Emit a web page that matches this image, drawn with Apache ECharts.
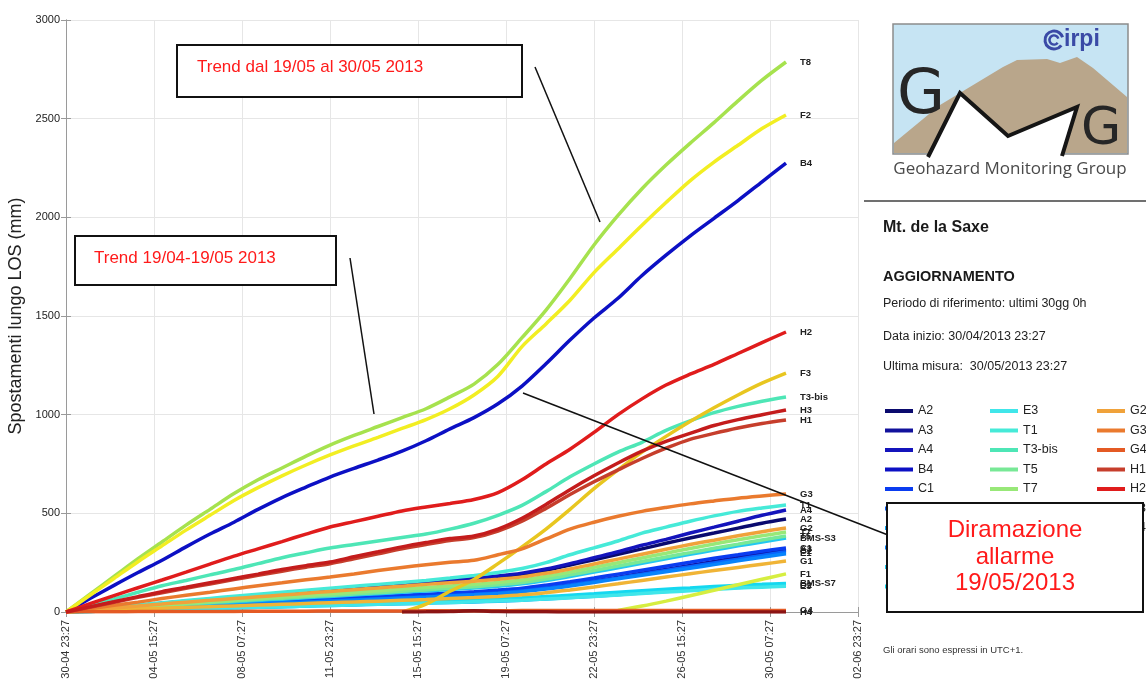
<!DOCTYPE html>
<html>
<head>
<meta charset="utf-8">
<script src="https://cdn.jsdelivr.net/npm/echarts@6/dist/echarts.min.js"></script>
<style>
  html, body { margin: 0; padding: 0; background: #ffffff; }
  #chart { width: 1146px; height: 683px; }
</style>
</head>
<body>
<div id="chart"></div>
<script>
// Hours elapsed since 30/04/2013 23:27 (one sample per day)
const hours = [0,24,48,72,96,120,144,168,192,216,240,264,288,312,336,360,384,408,432,456,480,504,528,552,576,600,624,648,672,696,720];

// Bottom axis tick labels, every 88 h (3 d 16 h)
const xTickLabels = ['30-04 23:27','04-05 15:27','08-05 07:27','11-05 23:27','15-05 15:27','19-05 07:27','22-05 23:27','26-05 15:27','30-05 07:27','02-06 23:27'];
const yTicks = [0, 500, 1000, 1500, 2000, 2500, 3000];

// Cumulative displacement along LOS (mm) for each target
const vA2 = [0,11,22,33,43,53,63,73,83,93,102,111,120,129,138,147,156,166,178,192,212,238,265,292,320,348,375,400,425,450,471];
const vA3 = [0,6,12,18,23,28,33,38,43,48,53,58,63,68,73,78,84,90,97,107,121,138,157,176,196,216,236,256,276,296,315];
const vA4 = [0,11,22,33,44,55,65,75,85,95,105,114,123,132,141,150,160,170,182,197,218,245,275,305,338,368,400,430,460,490,517];
const vB4 = [0,68,135,200,262,330,395,455,520,580,633,684,728,770,815,868,928,985,1055,1145,1258,1378,1490,1590,1705,1808,1905,1995,2085,2180,2275];
const vC1 = [0,6,12,18,24,30,36,42,48,54,60,66,72,78,84,90,96,103,111,121,136,153,172,192,212,232,252,272,290,308,324];
const vC2 = [0,6,12,17,22,27,32,37,42,47,52,57,62,67,72,77,83,89,96,106,120,137,155,173,192,211,230,249,267,287,305];
const vD2 = [0,3,6,9,12,15,18,21,24,27,30,33,36,39,42,45,48,51,55,60,66,73,80,88,96,104,111,118,124,130,135];
const vE1 = [0,5,10,15,20,25,30,35,40,45,50,55,60,65,70,75,81,87,94,103,116,132,150,168,186,204,222,240,259,277,295];
const vBMS_S3 = [0,8,16,23,30,37,44,51,58,65,72,79,86,93,100,107,114,122,131,143,160,180,202,224,247,270,292,314,335,355,375];
const vBMS_S7 = [0,3,6,9,12,15,18,21,24,28,32,36,40,44,48,52,57,62,67,72,78,85,92,100,108,115,122,129,135,140,145];
const vE3 = [0,3,6,9,12,15,18,21,24,27,30,33,36,39,42,45,48,52,56,60,66,72,79,86,94,101,108,115,121,126,130];
const vT1 = [0,12,24,36,47,58,69,80,90,100,110,120,130,140,150,160,172,185,200,220,250,290,325,360,400,430,460,487,510,527,542];
const vT3bis = [0,33,66,100,133,160,188,215,245,275,300,324,342,360,378,395,420,450,490,540,610,685,750,810,860,920,968,1010,1042,1068,1090];
const vT5 = [0,8,16,24,32,40,48,56,63,70,77,84,91,98,105,112,120,128,138,150,167,188,210,233,256,279,301,323,344,365,385];
const vT7 = [0,9,18,27,36,44,52,60,68,76,84,92,100,108,116,124,132,140,150,162,180,202,226,250,274,298,322,345,366,386,405];
const vT8 = [0,90,180,270,355,440,520,600,670,730,790,846,895,940,985,1030,1090,1155,1255,1390,1530,1690,1860,2010,2145,2265,2375,2480,2590,2695,2787];
const vF1 = [null,null,null,null,null,null,null,null,null,null,null,null,null,null,null,null,null,null,null,null,null,null,null,8,30,55,82,110,138,166,193];
const vF2 = [0,85,170,255,335,415,490,565,630,690,745,796,842,885,930,975,1030,1100,1195,1345,1460,1580,1720,1840,1960,2075,2185,2280,2365,2450,2519];
const vF3 = [null,null,null,null,null,null,null,null,null,null,null,null,null,null,0,40,105,165,245,330,420,520,625,720,810,890,965,1035,1100,1160,1211];
const vG1 = [0,5,10,15,19,23,27,31,35,39,43,47,51,55,59,63,68,73,79,87,98,112,127,143,160,177,194,210,226,242,258];
const vG2 = [0,10,20,30,40,50,59,68,77,86,95,104,113,122,131,140,148,156,166,178,196,218,243,268,293,318,342,364,386,407,426];
const vG3 = [0,17,34,50,68,85,100,117,133,148,163,177,193,210,226,240,252,262,290,320,370,420,455,485,510,530,548,563,577,588,598];
const vG4 = [0,1,1,2,2,3,3,3,4,4,4,5,5,5,5,6,6,6,6,7,7,7,7,7,8,8,8,8,8,8,8];
const vH1 = [0,24,49,74,98,120,142,164,186,207,227,245,270,295,320,342,362,377,410,460,525,595,660,720,778,830,875,905,932,955,973];
const vH2 = [0,42,83,123,162,202,243,283,320,357,395,431,458,485,512,532,550,570,605,670,750,825,910,1000,1080,1150,1205,1255,1310,1365,1419];
const vH3 = [0,26,52,78,103,125,148,170,192,215,235,253,280,305,330,352,372,385,420,475,545,620,690,755,815,865,905,945,975,1000,1024];
const vH4 = [null,null,null,null,null,null,null,null,null,null,null,null,null,null,0,1,3,6,2,1,1,0,0,0,0,0,0,0,0,0,0];

// Target names, in legend order, with their series
const targets = [
  ['A2', vA2], ['A3', vA3], ['A4', vA4], ['B4', vB4], ['C1', vC1],
  ['C2', vC2], ['D2', vD2], ['E1', vE1], ['BMS-S3', vBMS_S3], ['BMS-S7', vBMS_S7],
  ['E3', vE3], ['T1', vT1], ['T3-bis', vT3bis], ['T5', vT5], ['T7', vT7],
  ['T8', vT8], ['F1', vF1], ['F2', vF2], ['F3', vF3], ['G1', vG1],
  ['G2', vG2], ['G3', vG3], ['G4', vG4], ['H1', vH1], ['H2', vH2], ['H3', vH3], ['H4', vH4]
];

// Line colours per target (jet-like ramp)
const palette = {
  'A2': '#0a0a6e', 'A3': '#12129c', 'A4': '#1414bc', 'B4': '#0c10c4', 'C1': '#0a3cf0',
  'C2': '#0862fc', 'D2': '#08a4f8', 'E1': '#0884fc', 'BMS-S3': '#22c8f0', 'BMS-S7': '#14d8f0',
  'E3': '#40e6ea', 'T1': '#46ead8', 'T3-bis': '#4ee6b6', 'T5': '#78e896', 'T7': '#98e878',
  'T8': '#a6e24e', 'F1': '#d6ee40', 'F2': '#f2ee22', 'F3': '#e8c620', 'G1': '#f0b436',
  'G2': '#f0a23a', 'G3': '#ea7a2e', 'G4': '#e45a24', 'H1': '#c63e2c', 'H2': '#e01c1c',
  'H3': '#c41c1c', 'H4': '#8c1414'
};

const FONT = '"Liberation Sans", Arial, sans-serif';

const series = targets.map(([name, vals]) => ({
  name: name,
  type: 'line',
  showSymbol: false,
  smooth: 0.3,
  connectNulls: false,
  animation: false,
  color: palette[name],
  lineStyle: { width: 3.5, color: palette[name] },
  emphasis: { disabled: true },
  data: hours.map((h, i) => [h, vals[i]]),
  endLabel: {
    show: true,
    formatter: '{a}',
    distance: 14,
    fontSize: 9.5,
    fontWeight: 'bold',
    color: '#222',
    fontFamily: FONT
  }
}));

const legendCol1 = targets.slice(0, 10).map(t => t[0]);
const legendCol2 = targets.slice(10, 20).map(t => t[0]);
const legendCol3 = targets.slice(20).map(t => t[0]);

function legendColumn(names, left) {
  return {
    data: names,
    orient: 'vertical',
    left: left,
    top: 404,
    padding: 0,
    itemWidth: 28,
    itemHeight: 4,
    itemGap: 5.5,
    icon: 'rect',
    selectedMode: false,
    textStyle: { fontSize: 12.5, color: '#222', fontFamily: FONT, lineHeight: 14 }
  };
}

const axisGray = '#9a9a9a';
const gridLine = { show: true, lineStyle: { color: '#e6e6e6', width: 1 } };

const option = {
  animation: false,
  textStyle: { fontFamily: FONT },
  grid: { left: 66, top: 20, right: 288, bottom: 71, containLabel: false, outerBoundsMode: 'none' },
  legend: [legendColumn(legendCol1, 885), legendColumn(legendCol2, 990), legendColumn(legendCol3, 1097)],
  xAxis: [
    {
      type: 'value', min: 0, max: 792, interval: 88,
      axisLine: { show: true, onZero: false, lineStyle: { color: axisGray } },
      axisTick: { show: true, inside: true, length: 5, lineStyle: { color: axisGray } },
      splitLine: gridLine,
      axisLabel: {
        rotate: 90, fontSize: 11, color: '#333', margin: 8,
        formatter: v => xTickLabels[Math.round(v / 88)] || ''
      }
    },
    {
      type: 'value', min: 0, max: 792, interval: 88, position: 'top',
      axisLine: { show: true, lineStyle: { color: axisGray } },
      axisTick: { show: true, inside: true, length: 5, lineStyle: { color: axisGray } },
      axisLabel: { show: false }, splitLine: { show: false }
    }
  ],
  yAxis: [
    {
      type: 'value', min: 0, max: 3000, interval: 500,
      name: 'Spostamenti lungo LOS (mm)', nameLocation: 'middle', nameGap: 39,
      nameTextStyle: { fontSize: 18, color: '#222', fontFamily: FONT },
      axisLine: { show: true, lineStyle: { color: axisGray } },
      axisTick: { show: true, inside: true, length: 5, lineStyle: { color: axisGray } },
      splitLine: gridLine,
      axisLabel: { fontSize: 11, color: '#222', margin: 6, formatter: v => (yTicks.indexOf(v) >= 0 ? String(v) : '') }
    },
    {
      type: 'value', min: 0, max: 3000, interval: 500, position: 'right',
      axisLine: { show: true, lineStyle: { color: axisGray } },
      axisTick: { show: true, inside: true, length: 5, lineStyle: { color: axisGray } },
      axisLabel: { show: false }, splitLine: { show: false }
    }
  ],
  series: series,
  graphic: [
    // Group logo
    { type: 'rect', z: 50, shape: { x: 893, y: 24, width: 235, height: 130 }, style: { fill: '#c6e4f3', stroke: '#8c8c8c', lineWidth: 1.5 } },
    { type: 'polygon', z: 51, shape: { points: [[894,153],[894,143],[940,105],[1003,67],[1017,60],[1047,59],[1060,63],[1077,57],[1093,68],[1127,97],[1127,153]] }, style: { fill: '#b9a68b' } },
    { type: 'polygon', z: 52, shape: { points: [[928,158],[960,93],[1008,136],[1077,107],[1062,158]] }, style: { fill: '#ffffff' } },
    { type: 'polyline', z: 53, shape: { points: [[928,157],[960,93],[1008,136],[1077,107],[1062,156]] }, style: { stroke: '#151515', lineWidth: 4, fill: null } },
    { type: 'text', z: 53, x: 897, y: 97, style: { text: 'G', font: '62px "DejaVu Sans", sans-serif', fill: '#262626', textVerticalAlign: 'middle' } },
    { type: 'text', z: 53, x: 1081, y: 130, style: { text: 'G', font: '52px "DejaVu Sans", sans-serif', fill: '#262626', textVerticalAlign: 'middle' } },
    { type: 'arc', z: 53, shape: { cx: 1054, cy: 40, r: 9, startAngle: 0.2 * Math.PI, endAngle: 1.9 * Math.PI }, style: { stroke: '#3a4aa6', lineWidth: 3, fill: null } },
    { type: 'arc', z: 53, shape: { cx: 1054, cy: 40, r: 4.5, startAngle: 0.2 * Math.PI, endAngle: 1.9 * Math.PI }, style: { stroke: '#3a4aa6', lineWidth: 2.5, fill: null } },
    { type: 'text', z: 53, x: 1064, y: 51, style: { text: 'irpi', font: 'bold 23px "Liberation Sans", Arial, sans-serif', fill: '#3a4aa6', textVerticalAlign: 'bottom' } },
    { type: 'text', z: 53, x: 1010, y: 169, style: { text: 'Geohazard Monitoring Group', font: '17px "Open Sans", sans-serif', fill: '#4a4a4a', textAlign: 'center', textVerticalAlign: 'middle' } },

    // Site information panel
    { type: 'line', z: 50, shape: { x1: 864, y1: 201, x2: 1146, y2: 201 }, style: { stroke: '#707070', lineWidth: 2 } },
    { type: 'text', z: 50, x: 883, y: 236, style: { text: 'Mt. de la Saxe', font: 'bold 16px ' + FONT, fill: '#1a1a1a', textVerticalAlign: 'bottom' } },
    { type: 'text', z: 50, x: 883, y: 284, style: { text: 'AGGIORNAMENTO', font: 'bold 14.5px ' + FONT, fill: '#1a1a1a', textVerticalAlign: 'bottom' } },
    { type: 'text', z: 50, x: 883, y: 310, style: { text: 'Periodo di riferimento: ultimi 30gg 0h', font: '12.5px ' + FONT, fill: '#222', textVerticalAlign: 'bottom' } },
    { type: 'text', z: 50, x: 883, y: 343, style: { text: 'Data inizio: 30/04/2013 23:27', font: '12.5px ' + FONT, fill: '#222', textVerticalAlign: 'bottom' } },
    { type: 'text', z: 50, x: 883, y: 373, style: { text: 'Ultima misura:  30/05/2013 23:27', font: '12.5px ' + FONT, fill: '#222', textVerticalAlign: 'bottom' } },
    { type: 'text', z: 50, x: 883, y: 655, style: { text: 'Gli orari sono espressi in UTC+1.', font: '9.5px ' + FONT, fill: '#333', textVerticalAlign: 'bottom' } },

    // Trend annotations
    { type: 'line', z: 100, shape: { x1: 535, y1: 67, x2: 600, y2: 222 }, style: { stroke: '#111', lineWidth: 1.5 } },
    { type: 'line', z: 100, shape: { x1: 350, y1: 258, x2: 374, y2: 414 }, style: { stroke: '#111', lineWidth: 1.5 } },
    { type: 'line', z: 100, shape: { x1: 523, y1: 393, x2: 888, y2: 535 }, style: { stroke: '#111', lineWidth: 1.5 } },
    { type: 'rect', z: 100, shape: { x: 177, y: 45, width: 345, height: 52 }, style: { fill: '#ffffff', stroke: '#111', lineWidth: 2 } },
    { type: 'text', z: 101, x: 197, y: 67, style: { text: 'Trend dal 19/05 al 30/05 2013', font: '17px ' + FONT, fill: '#ff1a1a', textVerticalAlign: 'middle' } },
    { type: 'rect', z: 100, shape: { x: 75, y: 236, width: 261, height: 49 }, style: { fill: '#ffffff', stroke: '#111', lineWidth: 2 } },
    { type: 'text', z: 101, x: 94, y: 258, style: { text: 'Trend 19/04-19/05 2013', font: '17px ' + FONT, fill: '#ff1a1a', textVerticalAlign: 'middle' } },
    { type: 'rect', z: 100, shape: { x: 887, y: 503, width: 256, height: 109 }, style: { fill: '#ffffff', stroke: '#111', lineWidth: 2 } },
    { type: 'text', z: 101, x: 1015, y: 557, style: { text: 'Diramazione\nallarme\n19/05/2013', font: '24px ' + FONT, fill: '#ff1a1a', textAlign: 'center', textVerticalAlign: 'middle', lineHeight: 26.5 } }
  ]
};

const chart = echarts.init(document.getElementById('chart'), null, { renderer: 'canvas' });
chart.setOption(option);
</script>
</body>
</html>
